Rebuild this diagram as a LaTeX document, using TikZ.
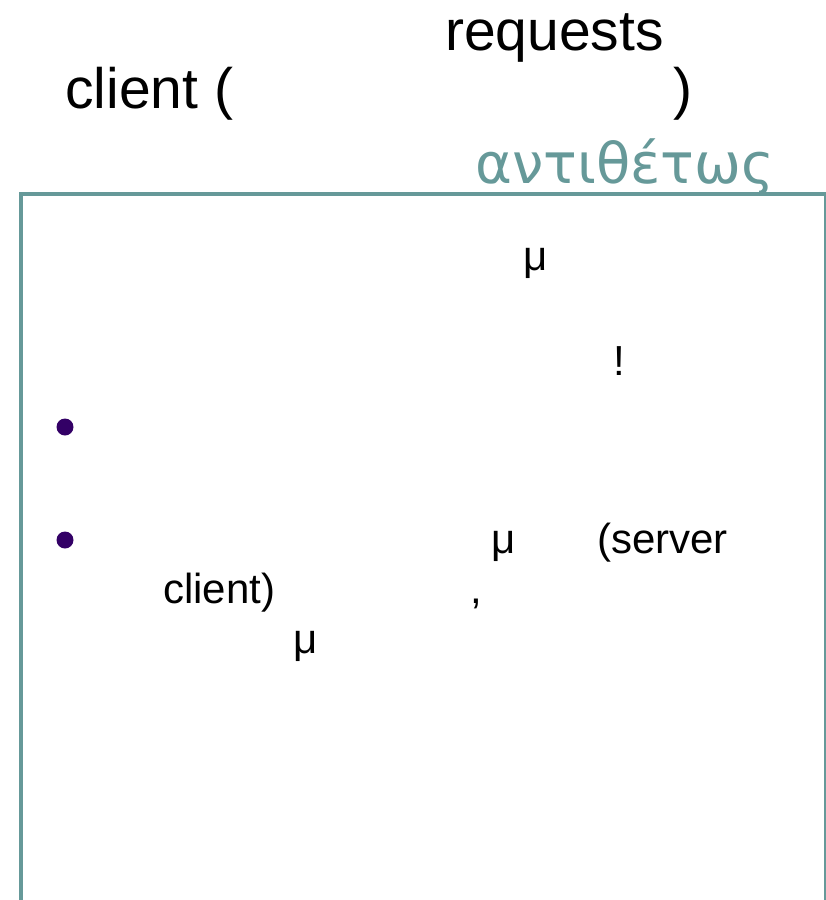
\documentclass[tikz,border=0pt]{standalone}
\usepackage{fontspec}
\setmainfont{Liberation Sans}
\newfontfamily\greekfont{DejaVu Sans}
\definecolor{teal1}{HTML}{669999}
\definecolor{bulletc}{HTML}{330066}
\begin{document}
\begin{tikzpicture}[x=1pt,y=-1pt,
  title/.style={anchor=base west,inner sep=0pt,font=\fontsize{57}{68}\selectfont},
  body/.style={anchor=base west,inner sep=0pt,font=\fontsize{42}{50}\selectfont},
  bul/.style={circle,fill=bulletc,inner sep=0pt,minimum size=17pt},
  frame/.style={draw=teal1,line width=4pt}]
\useasboundingbox (0,0) rectangle (826,900);
% title
\node[title] (req) at (445,50) {requests};
\node[title] (cli) at (65,108) {client (};
\node[title] (par) at (673,108) {)};
\node[anchor=base west,inner sep=0pt,text=teal1,font=\greekfont\fontsize{56}{66}\selectfont] (ant) at (475,183) {αντιθέτως};
% frame
\coordinate (fbl) at (21,900);
\coordinate (ftl) at (21,194);
\coordinate (ftr) at (826,194);
\coordinate (frt) at (825,194);
\coordinate (frb) at (825,900);
\draw[frame] (fbl) -- (ftl) -- (ftr);
\draw[draw=teal1,line width=2pt] (frt) -- (frb);
% body
\node[body] (mu1) at (523,270) {μ};
\node[body] (ex) at (613,375) {!};
\node[bul] (b1) at (65,427) {};
\node[bul] (b2) at (65,540) {};
\node[body] (mu2) at (491,553) {μ};
\node[body] (srv) at (597,553) {(server};
\node[body] (cl2) at (163,603) {client)};
\node[body] (com) at (470,603) {,};
\node[body] (mu3) at (293,653) {μ};
\end{tikzpicture}
\end{document}
